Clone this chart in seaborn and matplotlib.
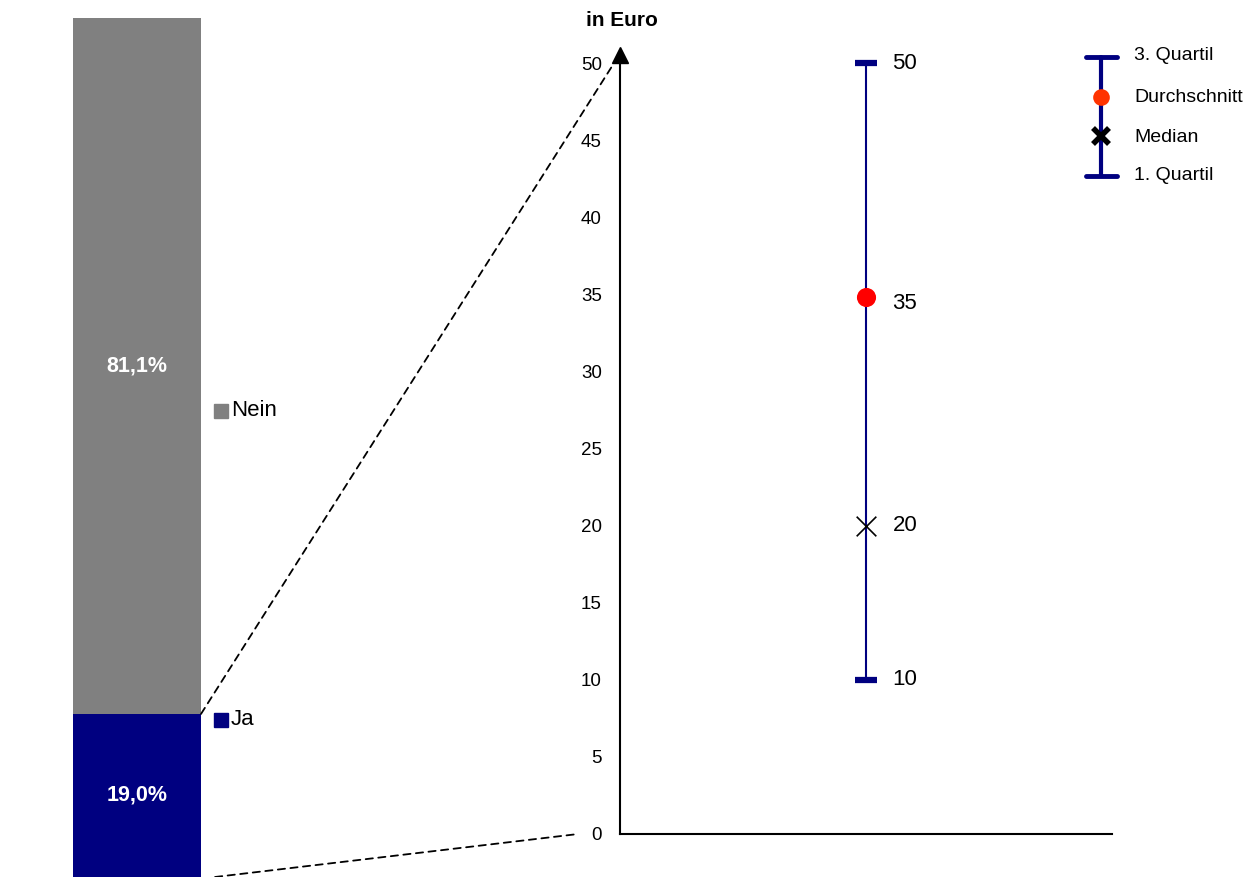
import seaborn as sns
import matplotlib.pyplot as plt
from matplotlib.patches import ConnectionPatch

# Anteil der Befragten
answers = ["Ja", "Nein"]
shares = [19.0, 81.1]
share_labels = ["19,0%", "81,1%"]
bar_colors = ["#000080", "#808080"]

# Betrag in Euro
q1 = 10
median = 20
mean = 34.8
q3 = 50
y_ticks = list(range(0, 55, 5))
legend_names = ["3. Quartil", "Durchschnitt", "Median", "1. Quartil"]

sns.set_theme(style="white")
plt.rcParams["font.family"] = ["Liberation Sans", "DejaVu Sans"]
plt.rcParams["text.color"] = "black"
plt.rcParams["ytick.color"] = "black"

W, H = 1249, 877
fig = plt.figure(figsize=(W / 100, H / 100), dpi=100)

# left: stacked bar
total = sum(shares)
ax1 = fig.add_axes([73 / W, 0, 128 / W, 859 / H])
sns.barplot(x=["a"], y=[total], color=bar_colors[1], width=1, saturation=1,
            linewidth=0, ax=ax1)
sns.barplot(x=["a"], y=[shares[0]], color=bar_colors[0], width=1, saturation=1,
            linewidth=0, ax=ax1)
ax1.set_xlim(-0.5, 0.5)
ax1.set_ylim(0, total)
ax1.axis("off")

ax1.text(0, shares[0] / 2, share_labels[0], ha="center", va="center",
         color="white", fontsize=15.5, fontweight="bold")
ax1.text(0, shares[0] + shares[1] / 2, share_labels[1], ha="center", va="center",
         color="white", fontsize=15.5, fontweight="bold")

# little legend next to the bar
for name, col, ypos in zip(answers, bar_colors, [0.183, 0.5425]):
    ax1.plot(1.156, ypos, marker="s", ms=9.5, color=col, transform=ax1.transAxes,
             clip_on=False)
    ax1.text(1.235, ypos, name, fontsize=16, va="center", ha="left",
             transform=ax1.transAxes)

# right: quartile chart
ax2 = fig.add_axes([620 / W, 43 / H, 492 / W, 778.7 / H])
ax2.plot([0.5, 0.5], [q1, q3], color="#000080", lw=1.5, zorder=2)
ax2.plot([0.5, 0.5], [q1, q3], ls="none", marker="_", ms=16, mew=4.5,
         color="#000080", zorder=3)
sns.scatterplot(x=[0.5], y=[mean], color="#FF0000", s=190, linewidth=0,
                zorder=4, ax=ax2)
sns.scatterplot(x=[0.5], y=[median], color="black", marker="x", s=200,
                linewidth=1.2, zorder=4, ax=ax2)

for v, dy in [(q3, 0), (mean, -4.5), (median, 0), (q1, 0)]:
    ax2.annotate(f"{v:.0f}", (0.5, v), xytext=(19, dy), textcoords="offset points",
                 va="center", ha="left", fontsize=16)

ax2.set_xlim(0, 1)
ax2.set_ylim(0, 50.5)
ax2.set_yticks(y_ticks)
ax2.set_xticks([])
ax2.tick_params(axis="y", length=0, pad=13, labelsize=13.5)
sns.despine(ax=ax2)
for s in ["left", "bottom"]:
    ax2.spines[s].set_color("black")
    ax2.spines[s].set_linewidth(1.5)
ax2.plot(0, 1, marker="^", ms=11, color="black", transform=ax2.transAxes,
         clip_on=False)
ax2.text(0.004, 1.045, "in Euro", ha="center", va="center", fontsize=15,
         fontweight="bold", transform=ax2.transAxes)

# dashed connectors
con_top = ConnectionPatch(xyA=(0.5, shares[0]), coordsA=ax1.transData,
                          xyB=(-0.012, 50), coordsB=ax2.transData,
                          ls=(0, (4, 3)), lw=1.3, color="black")
con_bot = ConnectionPatch(xyA=(0.61, 0), coordsA=ax1.transData,
                          xyB=(-0.085, 0), coordsB=ax2.transData,
                          ls=(0, (4, 3)), lw=1.3, color="black")
fig.add_artist(con_top)
fig.add_artist(con_bot)

# key at the top right
ax3 = fig.add_axes([1070 / W, 1 - 200 / H, 179 / W, 170 / H])
ax3.set_xlim(1070, 1249)
ax3.set_ylim(200, 30)
ax3.axis("off")
ax3.plot([1101, 1101], [57, 176], color="#000080", lw=3)
ax3.plot([1086, 1117], [57, 57], color="#000080", lw=3.5)
ax3.plot([1086, 1117], [176, 176], color="#000080", lw=3.5)
ax3.plot(1101, 97, marker="o", ms=12, color="#FF3300", mew=0)
ax3.plot(1101, 136, marker="x", ms=12, mew=4, color="black")
for name, ypos in zip(legend_names, [55, 97, 137, 175]):
    ax3.text(1134, ypos, name, fontsize=14, va="center", ha="left", clip_on=False)

fig.savefig("out.png", dpi=100)
